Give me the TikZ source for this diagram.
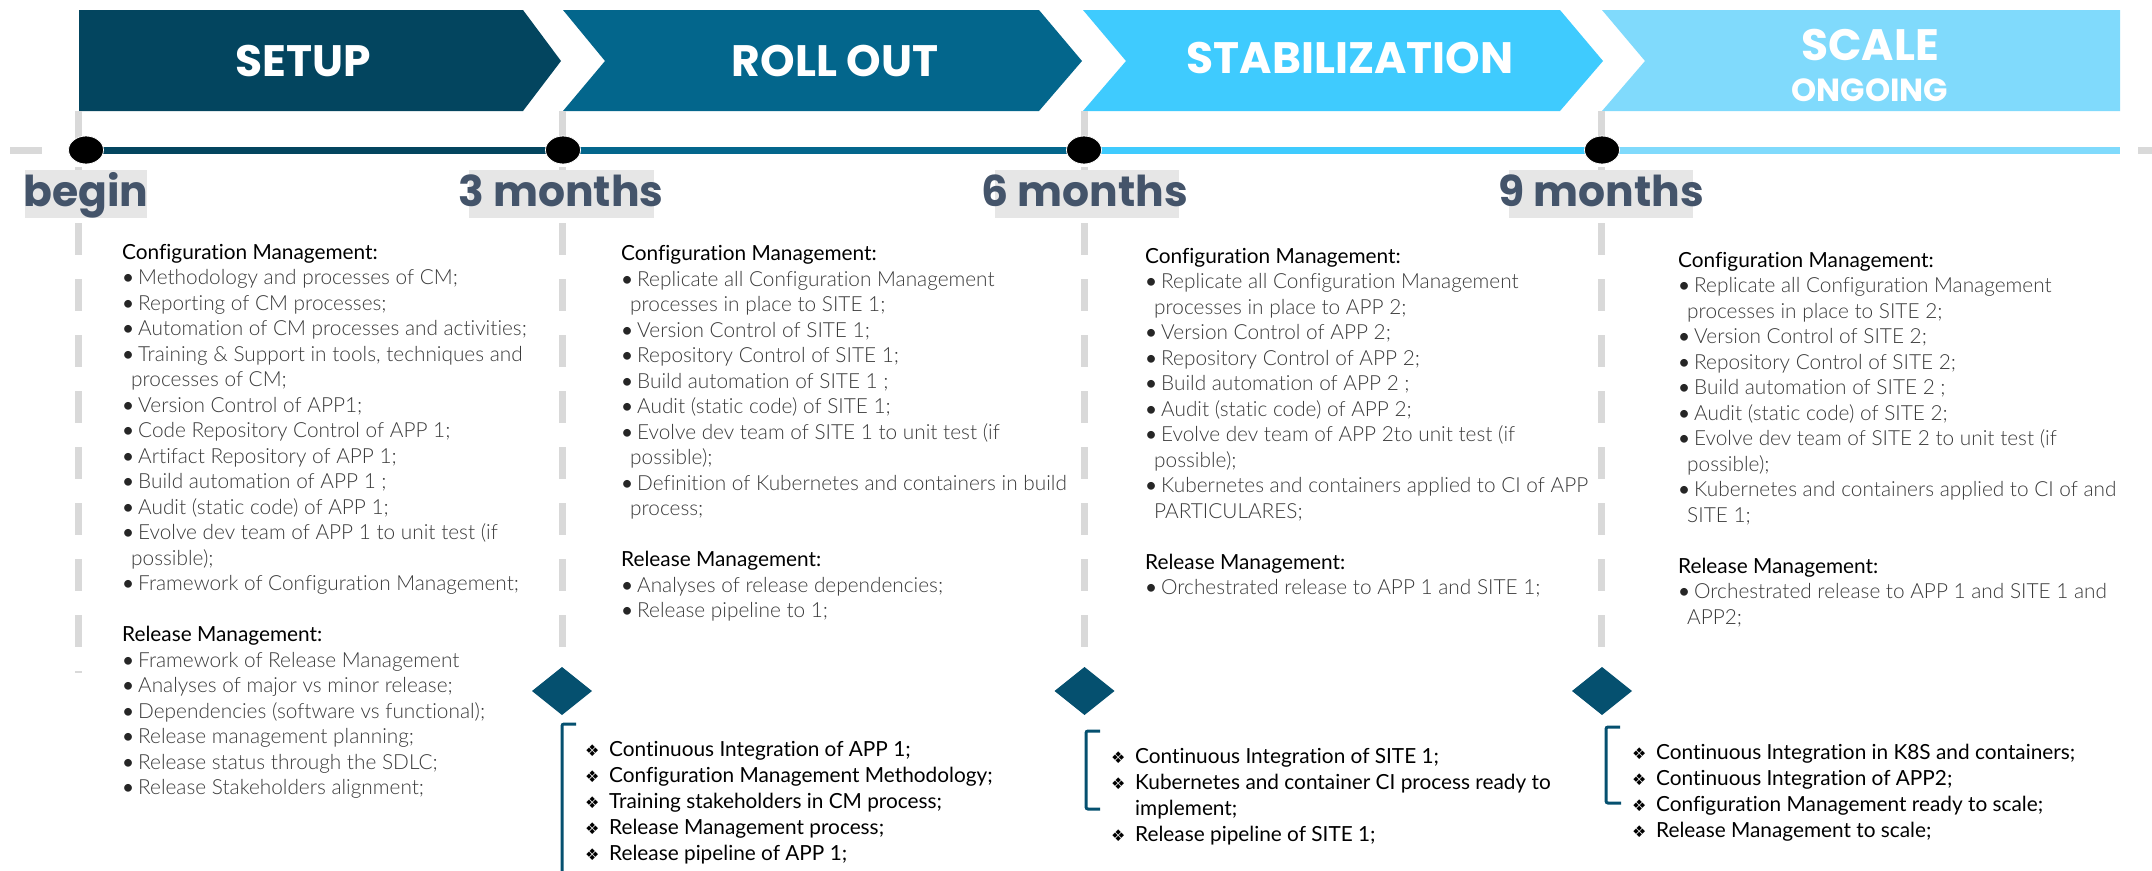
\documentclass[tikz,border=0pt]{standalone}
\usepackage{fontspec}
\setmainfont{Lato}[Ligatures=NoCommon]
\IfFontExistsTF{Lato Light}{\newfontfamily\lightf{Lato Light}[Ligatures=NoCommon]}{\newfontfamily\lightf{Lato}[Ligatures=NoCommon]}
\newfontfamily\hdrf{Poppins}
\newfontfamily\symf{DejaVu Sans}
\definecolor{cSetup}{HTML}{03455F}
\definecolor{cRoll}{HTML}{03668C}
\definecolor{cStab}{HTML}{3FCBFE}
\definecolor{cScale}{HTML}{80DAFC}
\definecolor{cDia}{HTML}{05506F}
\definecolor{cLbl}{HTML}{44546A}
\definecolor{cBox}{HTML}{E6E6E6}
\definecolor{cDash}{HTML}{D9D9D9}
\definecolor{cTxt}{HTML}{3A3A3A}
\definecolor{cDot}{HTML}{262626}
\newcommand\colblock[2]{\vtop{\baselineskip=#1\lineskiplimit=-100pt\lineskip=0pt\tabskip=0pt\halign{##\hfil\cr#2\crcr}}}
\newcommand\hd[1]{{\color{black}#1}}
\newcommand\bi[1]{\makebox[16pt][l]{\color{cDot}•}{\lightf\color{cTxt}#1}}
\newcommand\ct[1]{\hspace{9pt}{\lightf\color{cTxt}#1}}
\newcommand\di[1]{\makebox[24pt][l]{\raisebox{0pt}{\symf\fontsize{16}{16}\selectfont ❖}}#1}
\newcommand\dc[1]{\hspace{24pt}#1}
\usetikzlibrary{shapes.geometric}
\tikzset{
  bantext/.style={font=\hdrf\bfseries\fontsize{44}{44}\selectfont, text=white, anchor=base, inner sep=0pt},
  bansub/.style={font=\hdrf\bfseries\fontsize{32}{32}\selectfont, text=white, anchor=base, inner sep=0pt},
  lbltext/.style={font=\hdrf\bfseries\fontsize{42.5}{42.5}\selectfont, text=cLbl, anchor=base, inner sep=0pt},
  tl/.style={line width=7pt},
  vdash/.style={draw=cDash, line width=7pt, dash pattern=on 32pt off 24pt},
  dotnode/.style={ellipse, fill=black, draw=white, line width=0.8pt, minimum width=35pt, minimum height=28pt, inner sep=0pt},
  blk/.style={anchor=base west, inner sep=0pt, font=\fontsize{20.8}{25.5}\selectfont},
  blkb/.style={anchor=base west, inner sep=0pt, font=\fontsize{20.8}{26}\selectfont},
  brk/.style={draw=cDia, line width=3pt, rounded corners=2pt},
}
\begin{document}
\begin{tikzpicture}[x=1pt,y=-1pt]
\useasboundingbox (0,0) rectangle (2152,870);
\fill[white] (0,0) rectangle (2152,870);
% banners
\fill[cSetup] (79,10) -- (523,10) -- (561,61) -- (523,111) -- (79,111) -- cycle;
\fill[cRoll] (563,10) -- (1039,10) -- (1082,61) -- (1039,111) -- (563,111) -- (605,61) -- cycle;
\fill[cStab] (1083,10) -- (1560,10) -- (1603,61) -- (1560,111) -- (1083,111) -- (1126,61) -- cycle;
\fill[cScale] (1602,10) -- (2120,10) -- (2120,111) -- (1602,111) -- (1645,61) -- cycle;
\node[bantext] (tsetup) at (303,76) {SETUP};
\node[bantext] (troll) at (835,76) {ROLL OUT};
\node[bantext] (tstab) at (1350,73) {STABILIZATION};
\node[bantext] (tscale) at (1870,60) {SCALE};
\node[bansub] (tongo) at (1870,101) {ONGOING};
% vertical dashed guides
\draw[vdash] (78,111) -- (78,673);
\draw[vdash] (562,111) -- (562,673);
\draw[vdash] (1084,111) -- (1084,673);
\draw[vdash] (1601,111) -- (1601,673);
% timeline
\coordinate (p0) at (86,150);
\coordinate (p1) at (563,150);
\coordinate (p2) at (1084,150);
\coordinate (p3) at (1602,150);
\coordinate (pend) at (2120,150);
\coordinate (gl0) at (10,150);
\coordinate (gl1) at (42,150);
\coordinate (gr0) at (2138,150);
\coordinate (gr1) at (2152,150);
\draw[tl, cDash] (gl0) -- (gl1);
\draw[tl, cDash] (gr0) -- (gr1);
\draw[tl, cSetup] (p0) -- (p1);
\draw[tl, cRoll] (p1) -- (p2);
\draw[tl, cStab] (p2) -- (p3);
\draw[tl, cScale] (p3) -- (pend);
\node[dotnode] (d0) at (p0) {};
\node[dotnode] (d1) at (p1) {};
\node[dotnode] (d2) at (p2) {};
\node[dotnode] (d3) at (p3) {};
% labels
\fill[cBox] (25,170) rectangle (147,218);
\fill[cBox] (469,170) rectangle (654,218);
\fill[cBox] (995,170) rectangle (1179,218);
\fill[cBox] (1509,170) rectangle (1693,218);
\node[lbltext] (lbegin) at (86,206) {begin};
\node[lbltext] (l3) at (561,206) {3 months};
\node[lbltext] (l6) at (1085,206) {6 months};
\node[lbltext] (l9) at (1601,206) {9 months};
% upper blocks
\node[blk] (col1) at (122,259) {\colblock{25.5pt}{%
\hd{Configuration Management:}\cr
\bi{Methodology and processes of CM;}\cr
\bi{Reporting of CM processes;}\cr
\bi{Automation of CM processes and activities;}\cr
\bi{Training \& Support in tools, techniques and}\cr
\ct{processes of CM;}\cr
\bi{Version Control of APP1;}\cr
\bi{Code Repository Control of APP 1;}\cr
\bi{Artifact Repository of APP 1;}\cr
\bi{Build automation of APP 1 ;}\cr
\bi{Audit (static code) of APP 1;}\cr
\bi{Evolve dev team of APP 1 to unit test (if}\cr
\ct{possible);}\cr
\bi{Framework of Configuration Management;}\cr
\cr
\hd{Release Management:}\cr
\bi{Framework of Release Management}\cr
\bi{Analyses of major vs minor release;}\cr
\bi{Dependencies (software vs functional);}\cr
\bi{Release management planning;}\cr
\bi{Release status through the SDLC;}\cr
\bi{Release Stakeholders alignment;}}};
\node[blk] (col2) at (621,260.5) {\colblock{25.5pt}{%
\hd{Configuration Management:}\cr
\bi{Replicate all Configuration Management}\cr
\ct{processes in place to SITE 1;}\cr
\bi{Version Control of SITE 1;}\cr
\bi{Repository Control of SITE 1;}\cr
\bi{Build automation of SITE 1 ;}\cr
\bi{Audit (static code) of SITE 1;}\cr
\bi{Evolve dev team of SITE 1 to unit test (if}\cr
\ct{possible);}\cr
\bi{Definition of Kubernetes and containers in build}\cr
\ct{process;}\cr
\cr
\hd{Release Management:}\cr
\bi{Analyses of release dependencies;}\cr
\bi{Release pipeline to 1;}}};
\node[blk] (col3) at (1145,263) {\colblock{25.5pt}{%
\hd{Configuration Management:}\cr
\bi{Replicate all Configuration Management}\cr
\ct{processes in place to APP 2;}\cr
\bi{Version Control of APP 2;}\cr
\bi{Repository Control of APP 2;}\cr
\bi{Build automation of APP 2 ;}\cr
\bi{Audit (static code) of APP 2;}\cr
\bi{Evolve dev team of APP 2to unit test (if}\cr
\ct{possible);}\cr
\bi{Kubernetes and containers applied to CI of APP}\cr
\ct{PARTICULARES;}\cr
\cr
\hd{Release Management:}\cr
\bi{Orchestrated release to APP 1 and SITE 1;}}};
\node[blk] (col4) at (1678,267) {\colblock{25.5pt}{%
\hd{Configuration Management:}\cr
\bi{Replicate all Configuration Management}\cr
\ct{processes in place to SITE 2;}\cr
\bi{Version Control of SITE 2;}\cr
\bi{Repository Control of SITE 2;}\cr
\bi{Build automation of SITE 2 ;}\cr
\bi{Audit (static code) of SITE 2;}\cr
\bi{Evolve dev team of SITE 2 to unit test (if}\cr
\ct{possible);}\cr
\bi{Kubernetes and containers applied to CI of and}\cr
\ct{SITE 1;}\cr
\cr
\hd{Release Management:}\cr
\bi{Orchestrated release to APP 1 and SITE 1 and}\cr
\ct{APP2;}}};
% milestones
\fill[cDia] (562,691) +(-30,0) -- +(0,-24) -- +(30,0) -- +(0,24) -- cycle;
\fill[cDia] (1084.5,691) +(-30,0) -- +(0,-24) -- +(30,0) -- +(0,24) -- cycle;
\fill[cDia] (1602,691) +(-30,0) -- +(0,-24) -- +(30,0) -- +(0,24) -- cycle;
\draw[brk] (576,724) -- (562,724) -- (562,875);
\draw[brk] (1100,731) -- (1086,731) -- (1086,809) -- (1100,809);
\draw[brk] (1620,727) -- (1606,727) -- (1606,803) -- (1621,803);
\node[blkb] (m1) at (585,756) {\colblock{26pt}{%
\di{Continuous Integration of APP 1;}\cr
\di{Configuration Management Methodology;}\cr
\di{Training stakeholders in CM process;}\cr
\di{Release Management process;}\cr
\di{Release pipeline of APP 1;}}};
\node[blkb] (m2) at (1111,763) {\colblock{26pt}{%
\di{Continuous Integration of SITE 1;}\cr
\di{Kubernetes and container CI process ready to}\cr
\dc{implement;}\cr
\di{Release pipeline of SITE 1;}}};
\node[blkb] (m3) at (1632,759) {\colblock{26pt}{%
\di{Continuous Integration in K8S and containers;}\cr
\di{Continuous Integration of APP2;}\cr
\di{Configuration Management ready to scale;}\cr
\di{Release Management to scale;}}};
\end{tikzpicture}
\end{document}
